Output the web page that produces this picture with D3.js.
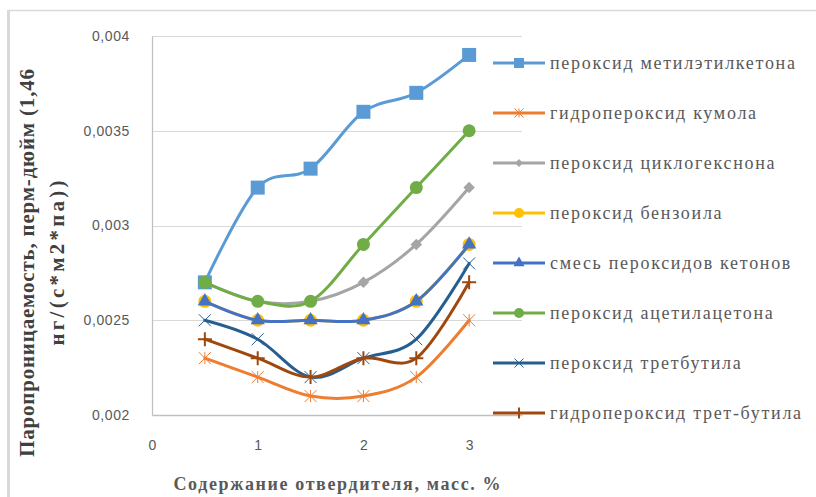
<!DOCTYPE html>
<html>
<head>
<meta charset="utf-8">
<script src="https://cdn.jsdelivr.net/npm/d3@7"></script>
<style>
  body { margin: 0; background: #fff; }
  svg { display: block; }
</style>
</head>
<body>
<div id="chart"></div>
<script>
// x values (масс. %)
const xValues = [0.5, 1, 1.5, 2, 2.5, 3];

const seriesNames = [
  "пероксид метилэтилкетона",
  "гидропероксид кумола",
  "пероксид циклогекснона",
  "пероксид бензоила",
  "смесь пероксидов кетонов",
  "пероксид ацетилацетона",
  "пероксид третбутила",
  "гидропероксид трет-бутила"
];

const metilEtilKeton = [0.0027, 0.0032, 0.0033, 0.0036, 0.0037, 0.0039];
const kumol          = [0.0023, 0.0022, 0.0021, 0.0021, 0.0022, 0.0025];
const cikloGekson    = [0.0027, 0.0026, 0.0026, 0.0027, 0.0029, 0.0032];
const benzoil        = [0.0026, 0.0025, 0.0025, 0.0025, 0.0026, 0.0029];
const smesKetonov    = [0.0026, 0.0025, 0.0025, 0.0025, 0.0026, 0.0029];
const acetilAceton   = [0.0027, 0.0026, 0.0026, 0.0029, 0.0032, 0.0035];
const tretButil      = [0.0025, 0.0024, 0.0022, 0.0023, 0.0024, 0.0028];
const tretButilHydro = [0.0024, 0.0023, 0.0022, 0.0023, 0.0023, 0.0027];

const seriesValues = [metilEtilKeton, kumol, cikloGekson, benzoil, smesKetonov, acetilAceton, tretButil, tretButilHydro];

const yTicks = [0.002, 0.0025, 0.003, 0.0035, 0.004];
const xTicks = [0, 1, 2, 3];

const colors = ["#5B9BD5", "#ED7D31", "#A5A5A5", "#FFC000", "#4472C4", "#70AD47", "#255E91", "#9E480E"];
const markers = ["square", "asterisk", "diamond", "circle", "triangle", "circle", "cross", "plus"];

const width = 816, height = 497;

let svg = d3.select("#chart").append("svg")
  .attr("width", width)
  .attr("height", height);

// outer frame (only top and left edges are visible)
svg.append("line").attr("x1", 8).attr("x2", width).attr("y1", 10.5).attr("y2", 10.5)
  .attr("stroke", "#d9d9d9").attr("stroke-width", 1.5);
svg.append("line").attr("x1", 8.5).attr("x2", 8.5).attr("y1", 10).attr("y2", height)
  .attr("stroke", "#d9d9d9").attr("stroke-width", 3);

let xScale = d3.scaleLinear().domain([0, 3.5]).range([152, 522]);
let yScale = d3.scaleLinear().domain([0.002, 0.004]).range([415, 36]);

// gridlines
svg.append("g")
  .selectAll("line")
  .data(yTicks.slice(1))
  .enter().append("line")
  .attr("x1", xScale(0)).attr("x2", xScale(3.5))
  .attr("y1", d => Math.round(yScale(d)) + 0.5)
  .attr("y2", d => Math.round(yScale(d)) + 0.5)
  .attr("stroke", "#d9d9d9").attr("stroke-width", 1.2);

// y axis
let yAxis = svg.append("g")
  .attr("transform", "translate(" + xScale(0) + ",0)")
  .call(d3.axisLeft(yScale).tickValues(yTicks).tickSize(0).tickPadding(22)
    .tickFormat(d => String(+d.toFixed(4)).replace(".", ",")));
yAxis.select(".domain").attr("stroke", "#bfbfbf").attr("stroke-width", 1.2);
yAxis.selectAll("text")
  .attr("font-family", "Liberation Sans, Arial, sans-serif")
  .attr("font-size", 14).attr("fill", "#595959")
  .attr("letter-spacing", 0.6);

// x axis
let xAxis = svg.append("g")
  .attr("transform", "translate(0," + yScale(0.002) + ")")
  .call(d3.axisBottom(xScale).tickValues(xTicks).tickSize(0).tickPadding(25)
    .tickFormat(d3.format("d")));
xAxis.select(".domain").attr("stroke", "#bfbfbf").attr("stroke-width", 1.5);
xAxis.selectAll("text")
  .attr("font-family", "Liberation Sans, Arial, sans-serif")
  .attr("font-size", 14).attr("fill", "#595959");

// axis titles
svg.append("text")
  .attr("x", 337).attr("y", 490)
  .attr("text-anchor", "middle")
  .attr("font-family", "Liberation Serif, Times New Roman, serif")
  .attr("font-weight", "bold").attr("font-size", 18)
  .attr("fill", "#595959")
  .attr("textLength", 327).attr("lengthAdjust", "spacing")
  .text("Содержание отвердителя, масс. %");

let yTitle = svg.append("text")
  .attr("transform", "translate(0,263) rotate(-90)")
  .attr("text-anchor", "middle")
  .attr("font-family", "Liberation Serif, Times New Roman, serif")
  .attr("font-weight", "bold").attr("font-size", 21)
  .attr("fill", "#404040");
yTitle.append("tspan").attr("x", 0).attr("y", 34)
  .attr("textLength", 388).attr("lengthAdjust", "spacing")
  .text("Паропроницаемость, перм-дюйм (1,46");
yTitle.append("tspan").attr("x", 0).attr("y", 64)
  .attr("textLength", 165).attr("lengthAdjust", "spacing")
  .text("нг/(с*м2*па))");

// marker drawing
function drawMarker(g, type, color, s) {
  if (type === "square") {
    g.append("rect").attr("x", -s / 2).attr("y", -s / 2).attr("width", s).attr("height", s).attr("fill", color);
  } else if (type === "circle") {
    g.append("circle").attr("r", s / 2).attr("fill", color);
  } else if (type === "diamond") {
    g.append("path").attr("d", d3.symbol(d3.symbolDiamond2, s * s * 0.5)).attr("fill", color);
  } else if (type === "triangle") {
    g.append("path").attr("d", d3.symbol(d3.symbolTriangle, s * s * 0.45)).attr("fill", color);
  } else if (type === "cross") {
    let h = s / 2;
    g.append("path").attr("d", "M" + -h + "," + -h + "L" + h + "," + h + "M" + -h + "," + h + "L" + h + "," + -h)
      .attr("stroke", color).attr("stroke-width", 1).attr("fill", "none");
  } else if (type === "asterisk") {
    let h = s / 2;
    g.append("path").attr("d", "M" + -h + "," + -h + "L" + h + "," + h + "M" + -h + "," + h + "L" + h + "," + -h + "M0," + -h + "L0," + h)
      .attr("stroke", color).attr("stroke-width", 1).attr("fill", "none");
  } else if (type === "plus") {
    let h = s / 2;
    g.append("path").attr("d", "M" + -h + ",0L" + h + ",0M0," + -h + "L0," + h)
      .attr("stroke", color).attr("stroke-width", 2).attr("fill", "none");
  }
}

const plotSize = { square: 14, circle: 13, diamond: 13, triangle: 14, cross: 12, asterisk: 12, plus: 14 };
const legendSize = { square: 10, circle: 10, diamond: 9, triangle: 11, cross: 9, asterisk: 9, plus: 11 };

let line = d3.line()
  .x(d => xScale(d.x))
  .y(d => yScale(d.y))
  .curve(d3.curveCatmullRom.alpha(0));

seriesValues.forEach(function(vals, i) {
  let dataset = xValues.map((x, j) => ({ x: x, y: vals[j] }));
  let g = svg.append("g").attr("class", "series");
  g.append("path")
    .datum(dataset)
    .attr("d", line)
    .attr("fill", "none")
    .attr("stroke", colors[i])
    .attr("stroke-width", 3)
    .attr("stroke-linejoin", "round")
    .attr("stroke-linecap", "round");
  g.selectAll(".dot")
    .data(dataset)
    .enter().append("g")
    .attr("transform", d => "translate(" + xScale(d.x) + "," + yScale(d.y) + ")")
    .each(function() { drawMarker(d3.select(this), markers[i], colors[i], plotSize[markers[i]]); });
});

// legend
let legend = svg.append("g").attr("transform", "translate(493,63)");
seriesNames.forEach(function(name, i) {
  let row = legend.append("g").attr("transform", "translate(0," + (i * 50) + ")");
  row.append("line").attr("x1", 0).attr("x2", 52).attr("y1", 0).attr("y2", 0)
    .attr("stroke", colors[i]).attr("stroke-width", 3);
  let m = row.append("g").attr("transform", "translate(26,0)");
  drawMarker(m, markers[i], colors[i], legendSize[markers[i]]);
  row.append("text")
    .attr("x", 57).attr("y", 6)
    .attr("font-family", "Liberation Serif, Times New Roman, serif")
    .attr("font-size", 18).attr("fill", "#595959")
    .attr("letter-spacing", 1.7)
    .text(name);
});
</script>
</body>
</html>
